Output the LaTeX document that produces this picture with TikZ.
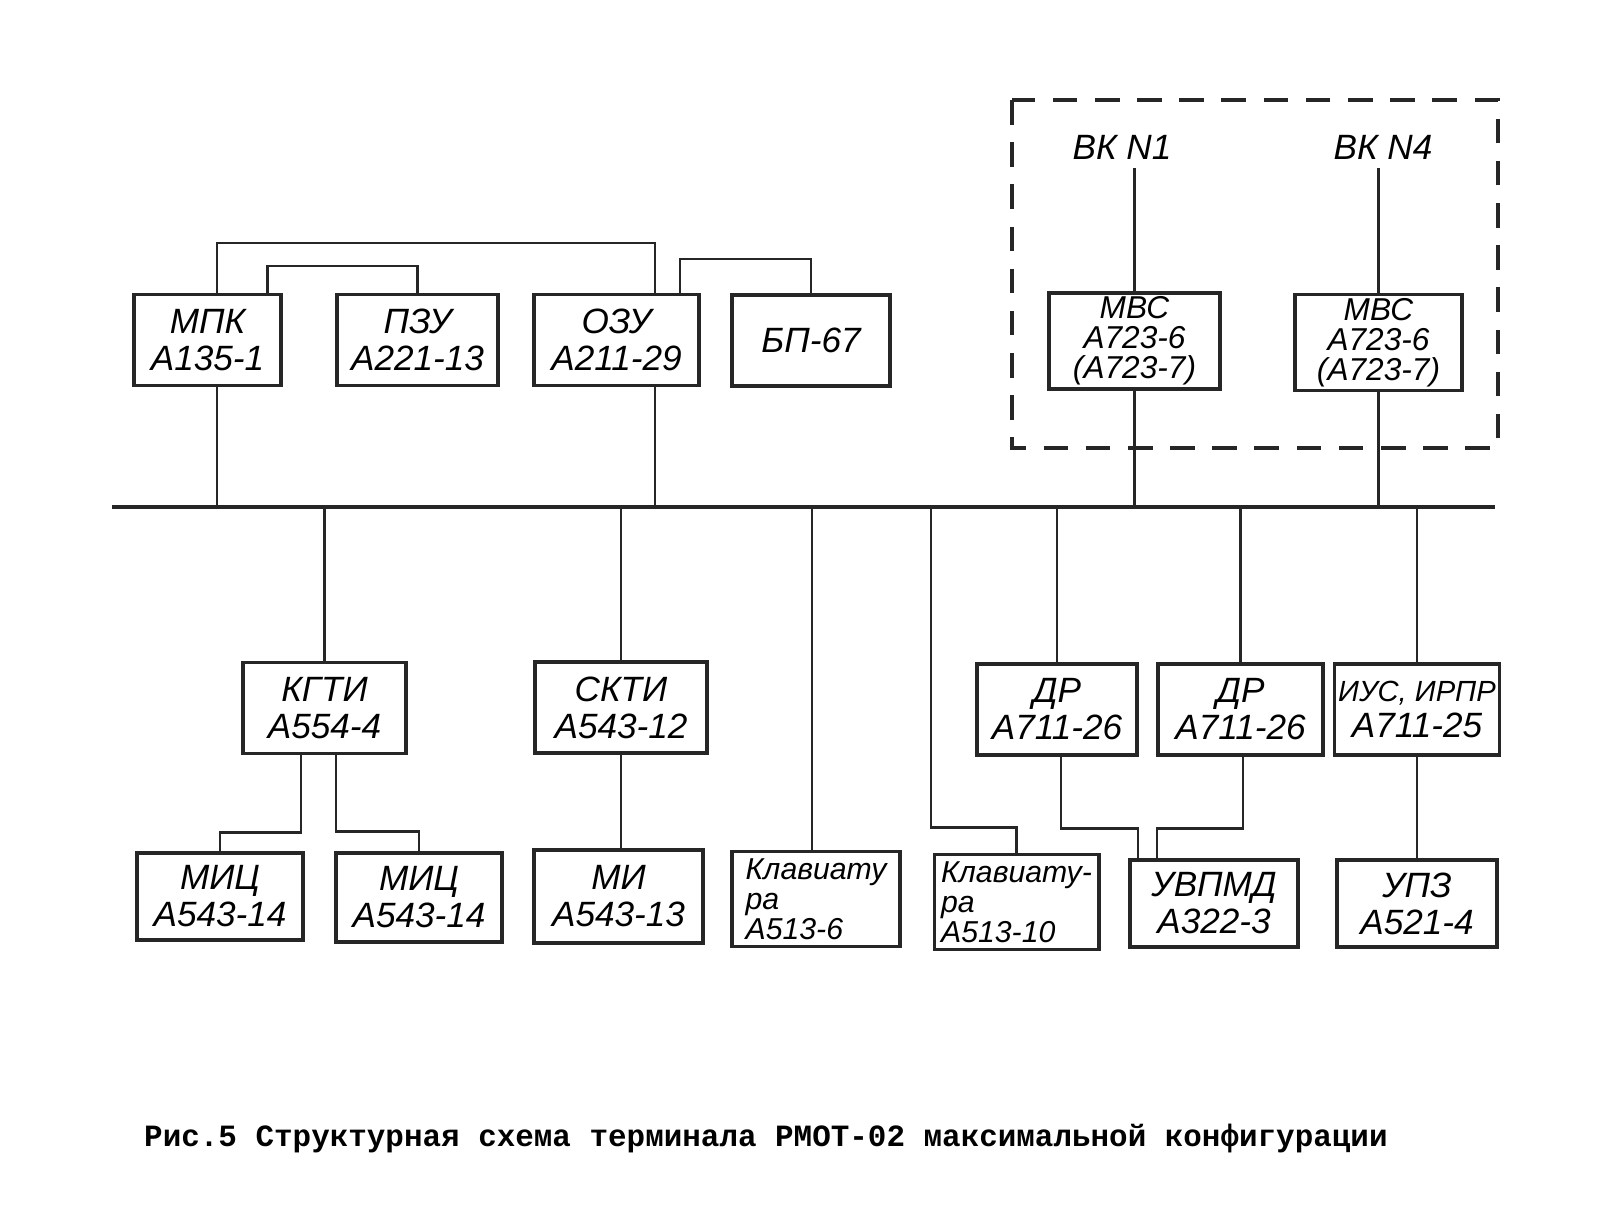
\documentclass[tikz,border=0pt]{standalone}
\usepackage{fontspec}
\setmainfont{Liberation Sans}
\newfontfamily\typewriter{Liberation Mono}
\usetikzlibrary{positioning}

\begin{document}
\begin{tikzpicture}[
    blk/.style={rectangle, draw=black!85, line width=0.9pt, minimum height=0.91cm, inner sep=1pt, align=center, font=\fontsize{10}{10.5}\selectfont\itshape},
    small/.style={font=\fontsize{9}{8.6}\selectfont\itshape},
    kbd/.style={blk, align=left, inner sep=2pt, font=\fontsize{8.6}{8.6}\selectfont\itshape},
    wire/.style={draw=black!85, line width=0.7pt},
    bus/.style={draw=black!85, line width=1.1pt},
    grp/.style={draw=black!85, line width=1pt, dash pattern=on 7pt off 5pt},
    lbl/.style={font=\fontsize{10}{10.5}\selectfont\itshape, inner sep=1pt},
]

\useasboundingbox (0,0) rectangle (16,-12.22);

% === Upper row: processor, memories, power supply ===
\node[blk, minimum width=1.47cm] (mpk) at (2.075,-3.40) {МПК\\А135-1};
\node[blk, minimum width=1.61cm] (pzu) at (4.175,-3.40) {ПЗУ\\А221-13};
\node[blk, minimum width=1.65cm] (ozu) at (6.165,-3.40) {ОЗУ\\А211-29};
\node[blk, minimum width=1.58cm] (bp) at (8.11,-3.405) {БП-67};

% === Dashed group: channel interfaces ===
\draw[grp] (10.12,-1.00) rectangle (14.98,-4.48);
\node[lbl] (vk1) at (11.22,-1.47) {ВК N1};
\node[lbl] (vk4) at (13.83,-1.47) {ВК N4};
\node[blk, small, minimum width=1.71cm, minimum height=0.92cm] (mvs1) at (11.345,-3.41) {МВС\\А723-6\\(А723-7)};
\node[blk, small, minimum width=1.67cm, minimum height=0.89cm] (mvs4) at (13.785,-3.425) {МВС\\А723-6\\(А723-7)};

% === Bus ===
\coordinate (busW) at (1.12,-5.07);
\coordinate (busE) at (14.95,-5.07);
\draw[bus] (busW) -- (busE);

\coordinate (tMPK) at (2.17,-5.07);
\coordinate (tOZU) at (6.55,-5.07);
\coordinate (tKL6) at (8.12,-5.07);
\coordinate (tKL10) at (9.31,-5.07);

% === Middle row ===
\node[blk, minimum width=1.63cm] (kgti) at (3.245,-7.08) {КГТИ\\А554-4};
\node[blk, minimum width=1.72cm] (skti) at (6.21,-7.075) {СКТИ\\А543-12};
\node[blk, minimum width=1.60cm] (dr1) at (10.57,-7.095) {ДР\\А711-26};
\node[blk, minimum width=1.65cm] (dr2) at (12.405,-7.095) {ДР\\А711-26};
\node[blk, minimum width=1.60cm, font=\fontsize{8.3}{10.5}\selectfont\itshape] (ius) at (14.17,-7.095) {ИУС, ИРПР\\{\fontsize{10}{10.5}\selectfont А711-25}};

% === Lower row ===
\node[blk, minimum width=1.66cm, minimum height=0.87cm] (mic1) at (2.20,-8.965) {МИЦ\\А543-14};
\node[blk, minimum width=1.66cm, minimum height=0.89cm] (mic2) at (4.19,-8.975) {МИЦ\\А543-14};
\node[blk, minimum width=1.69cm, minimum height=0.93cm] (mi) at (6.185,-8.965) {МИ\\А543-13};
\node[kbd, minimum width=1.68cm, minimum height=0.88cm] (klav6) at (8.16,-8.99) {Клавиату\\ра\\А513-6};
\node[kbd, minimum width=1.61cm, minimum height=0.90cm] (klav10) at (10.165,-9.02) {Клавиату-\\ра\\А513-10};
\node[blk, minimum width=1.68cm, minimum height=0.87cm] (uvpmd) at (12.14,-9.035) {УВПМД\\А322-3};
\node[blk, minimum width=1.60cm, minimum height=0.87cm] (upz) at (14.17,-9.035) {УПЗ\\А521-4};

% === Links above the upper row ===
\coordinate (lnkA) at (0,-2.43);
\coordinate (lnkB) at (0,-2.66);
\coordinate (lnkC) at (0,-2.59);
\draw[wire] (tMPK |- mpk.north) -- (tMPK |- lnkA) -- (tOZU |- lnkA) -- (tOZU |- ozu.north);
\draw[wire] ([xshift=6mm]mpk.north) |- (pzu.north |- lnkB) -- (pzu.north);
\draw[wire] ([xshift=6.35mm]ozu.north) |- (bp.north |- lnkC) -- (bp.north);

% === Channel lines ===
\draw[wire] ([yshift=-0.5mm]vk1.south -| mvs1.north) -- (mvs1.north);
\draw[wire] ([yshift=-0.5mm]vk4.south -| mvs4.north) -- (mvs4.north);

% === Drops to the bus ===
\draw[wire] (tMPK |- mpk.south) -- (tMPK);
\draw[wire] (tOZU |- ozu.south) -- (tOZU);
\draw[wire] (mvs1.south) -- (mvs1.south |- busW);
\draw[wire] (mvs4.south) -- (mvs4.south |- busW);
\draw[wire] (kgti.north |- busW) -- (kgti.north);
\draw[wire] (skti.north |- busW) -- (skti.north);
\draw[wire] (tKL6) -- (tKL6 |- klav6.north);
\draw[wire] (tKL10) |- ([yshift=2.5mm]klav10.north) -- (klav10.north);
\draw[wire] (dr1.north |- busW) -- (dr1.north);
\draw[wire] (dr2.north |- busW) -- (dr2.north);
\draw[wire] (ius.north |- busW) -- (ius.north);

% === Links below the middle row ===
\draw[wire] ([xshift=-2.35mm]kgti.south) |- ([yshift=1.9mm]mic1.north) -- (mic1.north);
\draw[wire] ([xshift=1.15mm]kgti.south) |- ([yshift=2mm]mic2.north) -- (mic2.north);
\draw[wire] (skti.south) -- (skti.south |- mi.north);
\draw[wire] ([xshift=0.4mm]dr1.south) |- ([xshift=-7.6mm,yshift=3mm]uvpmd.north) -- ([xshift=-7.6mm]uvpmd.north);
\draw[wire] ([xshift=0.25mm]dr2.south) |- ([xshift=-5.7mm,yshift=3mm]uvpmd.north) -- ([xshift=-5.7mm]uvpmd.north);
\draw[wire] (ius.south) -- (ius.south |- upz.north);

% === Caption ===
\node[font=\fontsize{8.8}{10}\selectfont\typewriter\bfseries] (cap) at (7.66,-11.38) {Рис.5 Структурная схема терминала РМОТ-02 максимальной конфигурации};

\end{tikzpicture}
\end{document}
